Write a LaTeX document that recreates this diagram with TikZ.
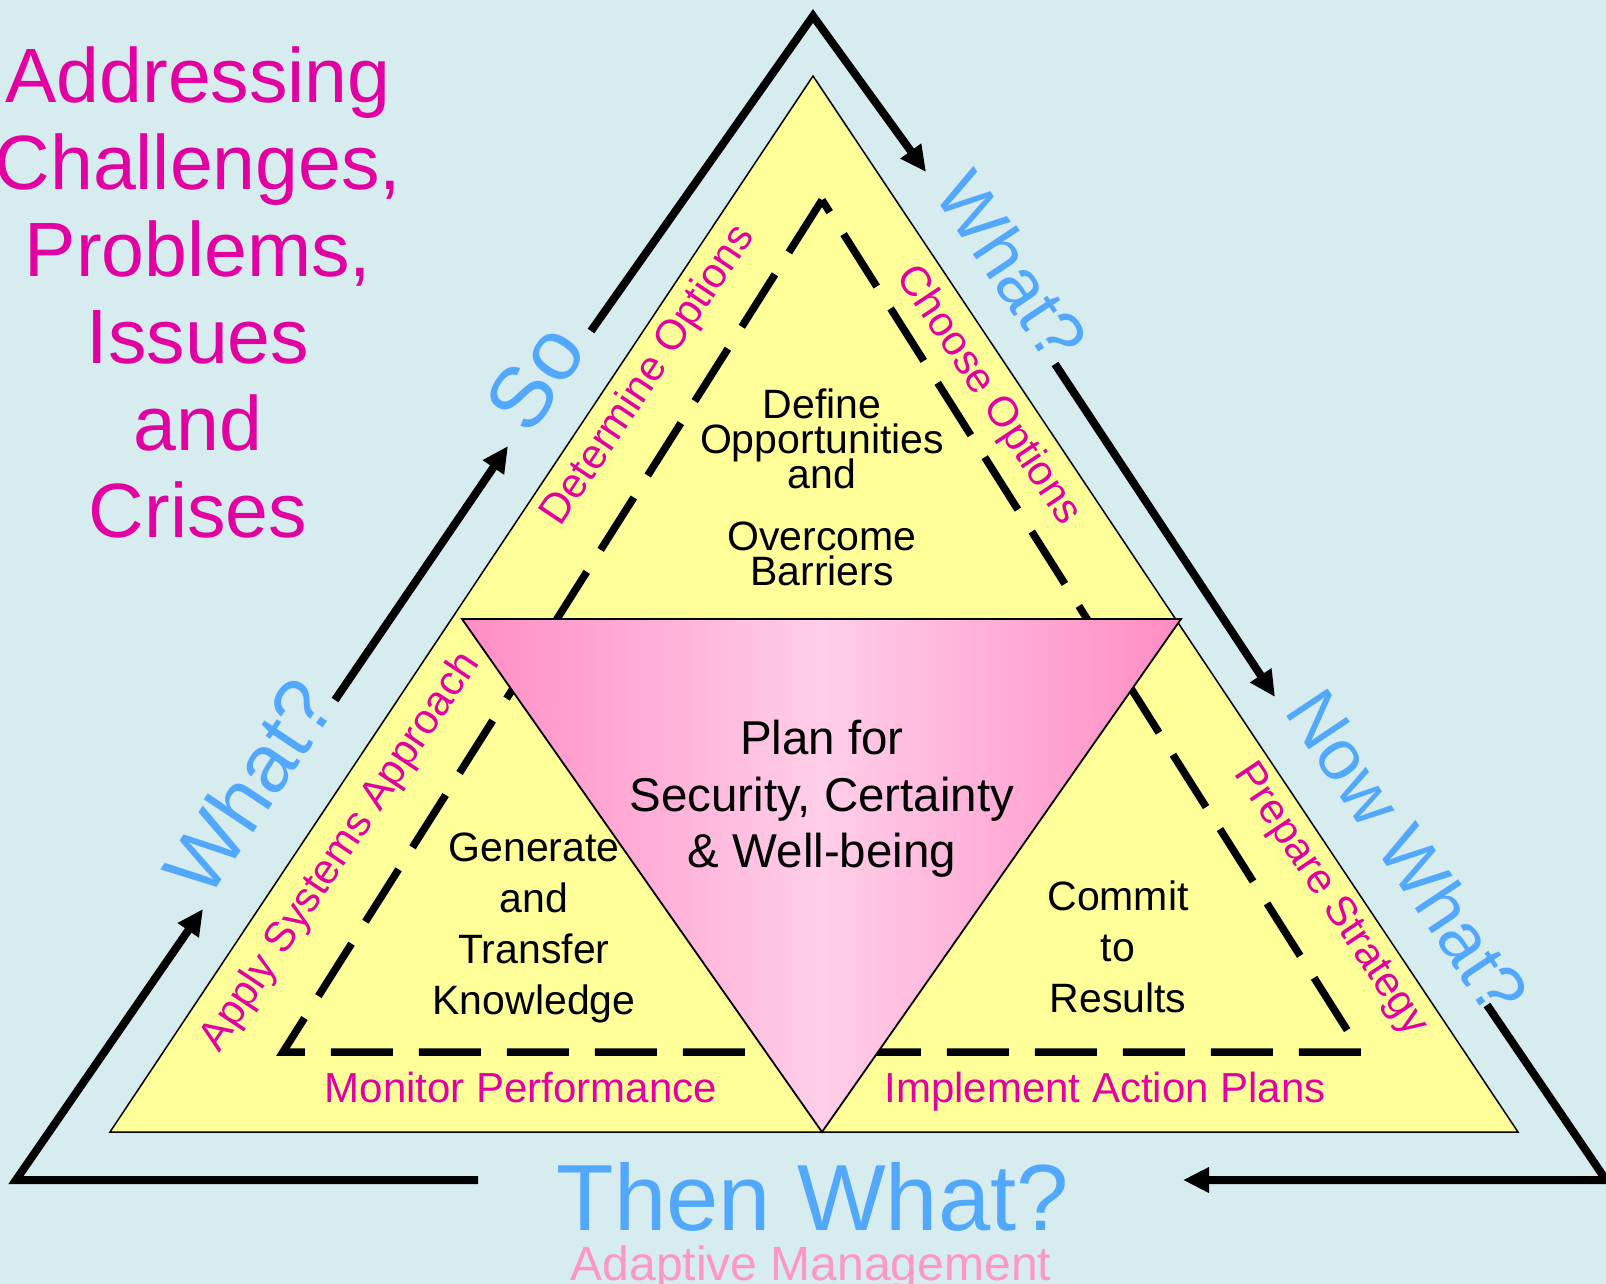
\documentclass[tikz,border=0pt]{standalone}
\usepackage{fontspec}
\setmainfont{Liberation Sans}
\usetikzlibrary{arrows.meta}
\definecolor{bgcol}{RGB}{214,236,238}
\definecolor{yellowfill}{RGB}{255,255,153}
\definecolor{magtext}{RGB}{226,0,162}
\definecolor{bluetext}{RGB}{82,168,255}
\definecolor{pinktext}{RGB}{255,150,200}
\definecolor{pinkedge}{RGB}{255,140,196}
\definecolor{pinkmid}{RGB}{255,206,232}
\newcommand{\setfs}[2]{\fontsize{#1}{#2}\selectfont\lineskiplimit=-1000pt}

\begin{document}
\begin{tikzpicture}[x=1pt,y=-1pt,
	flow/.style={line width=8pt,-{Triangle[length=26pt,width=24pt]}},
	sidelabel/.style={text=magtext,inner sep=0pt,font=\setfs{42}{48}},
	qlabel/.style={text=bluetext,inner sep=0pt},
	boxtext/.style={align=center,inner sep=0pt,font=\setfs{41}{51}}]
		\fill[bgcol] (0,0) rectangle (1606,1284);
		\useasboundingbox (0,0) rectangle (1606,1284);
		% yellow triangle
		\coordinate (ya) at (813,76);
		\coordinate (yl) at (110,1132);
		\coordinate (yr) at (1518,1132);
		\filldraw[fill=yellowfill,line width=1.5pt] (ya) -- (yl) -- (yr) -- cycle;
		% dashed triangle
		\coordinate (da) at (822,200);
		\coordinate (dl) at (283,1052);
		\coordinate (dr) at (1361,1052);
		\draw[line width=7.5pt,dash pattern=on 62pt off 26pt] (da) -- (dl) -- (dr) -- cycle;
		% pink triangle
		\coordinate (pl) at (462,619);
		\coordinate (pr) at (1181,619);
		\coordinate (pb) at (822,1132);
		\shade[left color=pinkedge,right color=pinkedge,middle color=pinkmid] (pl) -- (pr) -- (pb) -- cycle;
		\draw[line width=1.8pt,line join=miter] (pl) -- (pr) -- (pb) -- cycle;

		\node[text=magtext,align=center,inner sep=0pt,font=\setfs{77}{87}] (topic) at (198,292)
			{Addressing\\Challenges,\\Problems,\\Issues\\and\\Crises};

		\node[boxtext,font=\setfs{41}{35}] (define) at (822,487) {Define\\Opportunities\\and\\[27pt]Overcome\\Barriers};
		\node[boxtext] (generate) at (534,928) {Generate\\and\\Transfer\\Knowledge};
		\node[boxtext] (commit) at (1118,947) {Commit\\to\\Results};
		\node[boxtext,font=\setfs{47.5}{56.5}] (plan) at (822,799) {Plan for\\Security, Certainty\\\& Well-being};

		\node[sidelabel,rotate=56.3] (determine) at (649,376) {Determine Options};
		\node[sidelabel,rotate=-56.3] (choose) at (988,396) {Choose Options};
		\node[sidelabel,rotate=56.3] (apply) at (341,852) {Apply Systems Approach};
		\node[sidelabel,rotate=-56.3] (prepare) at (1330,900) {Prepare Strategy};
		\node[sidelabel,anchor=base] (monitor) at (521,1102) {Monitor Performance};
		\node[sidelabel,anchor=base] (implement) at (1105,1102) {Implement Action Plans};

		\node[qlabel,rotate=56.3,font=\setfs{86}{86}] (so) at (535,377) {So};
		\node[qlabel,rotate=56.3,font=\setfs{82}{82}] (whatleft) at (249,787) {What?};
		\node[qlabel,rotate=-56.3,font=\setfs{72}{72}] (whatright) at (1012,266) {What?};
		\node[qlabel,rotate=-56.3,font=\setfs{72}{72}] (nowwhat) at (1408,852) {Now What?};
		\node[qlabel,anchor=base,font=\setfs{94}{94}] (thenwhat) at (813,1230) {Then What?};
		\node[text=pinktext,inner sep=0pt,anchor=base,font=\setfs{48}{48}] (adaptive) at (811,1280) {Adaptive Management};

		% outer cycle
		\coordinate (top) at (813,16);
		\coordinate (lc) at (16,1180);
		\coordinate (rc) at (1606,1180);
		\coordinate (b1) at (478,1180);
		\coordinate (l1) at (203,909);
		\coordinate (l2) at (335,700);
		\coordinate (l3) at (508,446);
		\coordinate (l4) at (591,331);
		\coordinate (r1) at (926,172);
		\coordinate (r2) at (1055,364);
		\coordinate (r3) at (1275,697);
		\coordinate (r4) at (1487,1005);
		\coordinate (b2) at (1183,1180);
		\draw[flow] (b1) -- (lc) -- (l1);
		\draw[flow] (l2) -- (l3);
		\draw[flow] (l4) -- (top) -- (r1);
		\draw[flow] (r2) -- (r3);
		\draw[flow] (r4) -- (rc) -- (b2);
	\end{tikzpicture}
\end{document}
